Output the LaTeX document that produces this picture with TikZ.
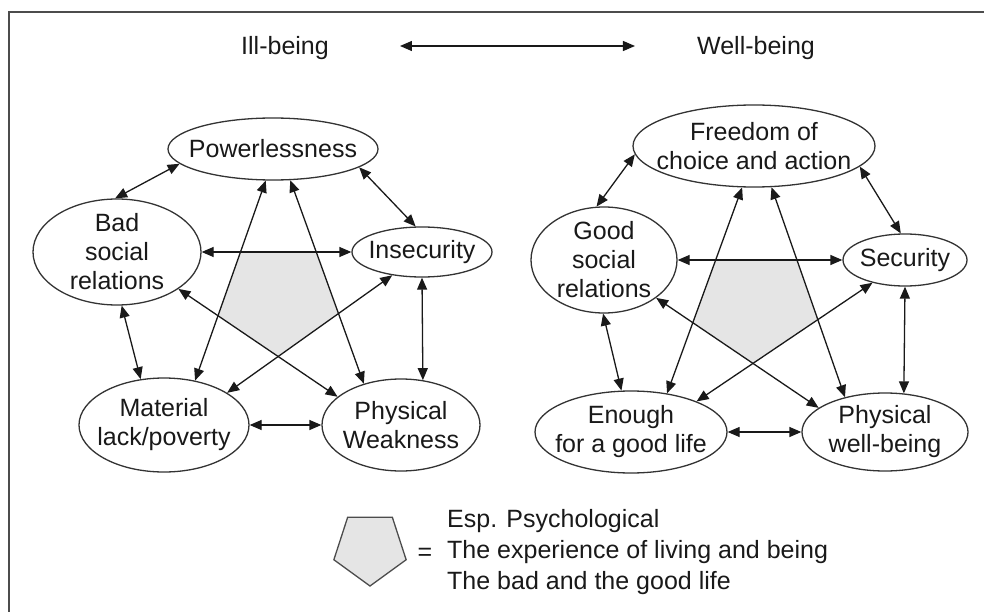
\documentclass[tikz,border=0pt]{standalone}
\usepackage{fontspec}
\setmainfont{Liberation Sans}
\usepackage{tikz}
\usetikzlibrary{arrows.meta,shapes.geometric}
\tikzset{
    every node/.style={font=\fontsize{25}{29}\selectfont, text=black!90},
    every label/.style={font=\fontsize{25}{29}\selectfont, align=center},
    state/.style={draw=black!80, ellipse, line width=1.3pt, inner sep=0pt},
    title/.style={inner sep=0pt, text height=18pt, text depth=0pt},
    link/.style={{Triangle[length=12pt,width=10pt]}-{Triangle[length=12pt,width=10pt]}, line width=1.3pt, draw=black!90}
}

\begin{document}
\begin{tikzpicture}[x=1pt,y=-1pt]
            \useasboundingbox (0,0) rectangle (984,612);
            \draw[line width=2pt, black!70] (9,612) -- (9,12) -- (984,12);

            \node[title] (ill) at (285,46) {Ill-being};
            \node[title] (well) at (756,46) {Well-being};
            \draw[link, shorten <=71pt, shorten >=62pt] (ill.east) -- (well.west);

            % ill-being
            \node[state, minimum width=210, minimum height=62, label=center:Powerlessness] (pow) at (273,149) {};
            \node[state, minimum width=168, minimum height=106, label={center:Bad\\social\\relations}] (bad) at (117,252) {};
            \node[state, minimum width=140, minimum height=50, label=center:Insecurity] (ins) at (422,252) {};
            \node[state, minimum width=170, minimum height=94, label={center:Material\\lack/poverty}] (mat) at (164,425) {};
            \node[state, minimum width=158, minimum height=92, label={center:Physical\\Weakness}] (phy) at (401,425) {};

            \fill[gray!20] (intersection of bad--ins and pow.257--mat.55)
                -- (intersection of bad--ins and pow.299--phy.132)
                -- (intersection of pow.299--phy.132 and ins.218--mat.27)
                -- (intersection of ins.218--mat.27 and bad.329--phy.156)
                -- (intersection of bad.329--phy.156 and pow.257--mat.55) -- cycle;

            \draw[link] (pow.189) -- (bad.92);
            \draw[link] (pow.348) -- (ins.104);
            \draw[link] (bad) -- (ins);
            \draw[link] (pow.257) -- (mat.55);
            \draw[link] (pow.299) -- (phy.132);
            \draw[link] (bad.275) -- (mat.117);
            \draw[link] (bad.329) -- (phy.156);
            \draw[link] (ins.218) -- (mat.27);
            \draw[link] (ins.south) -- (phy.64);
            \draw[link] (mat) -- (phy);

            % well-being
            \node[state, minimum width=242, minimum height=82, label={center:Freedom of\\choice and action}] (fre) at (754,146) {};
            \node[state, minimum width=146, minimum height=106, label={center:Good\\social\\relations}] (goo) at (604,260) {};
            \node[state, minimum width=124, minimum height=52, label=center:Security] (sec) at (905,260) {};
            \node[state, minimum width=192, minimum height=82, label={center:Enough\\for a good life}] (eno) at (631,432) {};
            \node[state, minimum width=166, minimum height=78, label={center:Physical\\well-being}] (pwb) at (885,432) {};

            \fill[gray!20] (intersection of goo--sec and fre.254--eno.47)
                -- (intersection of goo--sec and fre.293--pwb.139)
                -- (intersection of fre.293--pwb.139 and sec.215--eno.25)
                -- (intersection of sec.215--eno.25 and goo.324--pwb.160)
                -- (intersection of goo.324--pwb.160 and fre.254--eno.47) -- cycle;

            \draw[link] (fre.184) -- (goo.98);
            \draw[link] (fre.349) -- (sec.99);
            \draw[link] (goo) -- (sec);
            \draw[link] (fre.254) -- (eno.47);
            \draw[link] (fre.293) -- (pwb.139);
            \draw[link] (goo.269) -- (eno.103);
            \draw[link] (goo.324) -- (pwb.160);
            \draw[link] (sec.215) -- (eno.25);
            \draw[link] (sec.south) -- (pwb.64);
            \draw[link] (eno) -- (pwb);

            % legend
            \node[regular polygon, regular polygon sides=5, shape border rotate=180, minimum size=76,
                  inner sep=0pt, fill=gray!20, draw=black!70, line width=1.3pt] (pent) at (370,548) {};
            \node (eq) at (425,554) {=};
            \node[anchor=west, inner sep=0pt, align=left, font=\fontsize{25}{31}\selectfont] (legend) at (447,552)
                {Esp. Psychological\\The experience of living and being\\The bad and the good life};
        \end{tikzpicture}
\end{document}
